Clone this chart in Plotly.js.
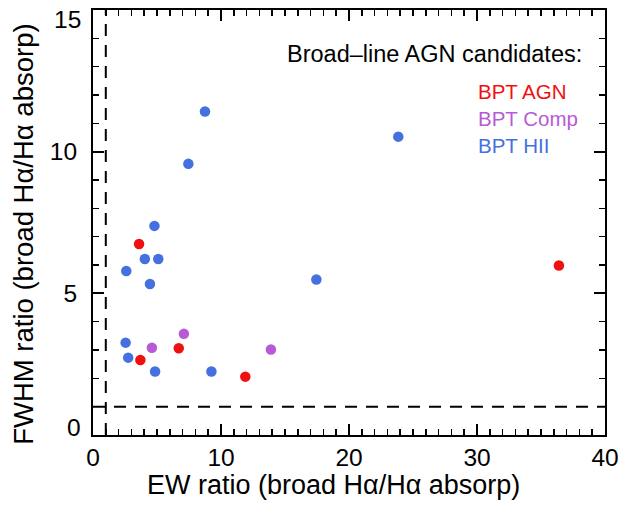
<!DOCTYPE html>
<html>
<head>
<meta charset="utf-8">
<script src="https://cdn.plot.ly/plotly-3.0.1.min.js"></script>
<style>html,body{margin:0;padding:0;background:#fff;}#chart{width:624px;height:507px;}</style>
</head>
<body>
<div id="chart"></div>
<script>
// EW ratio (x) and FWHM ratio (y) per BPT class
const agnEW   = [3.6, 6.7, 3.7, 11.9, 36.4];
const agnFWHM = [6.74, 3.06, 2.65, 2.06, 5.98];
const compEW   = [7.1, 4.6, 13.9];
const compFWHM = [3.57, 3.08, 3.02];
const hiiEW   = [8.75, 7.45, 4.8, 4.05, 5.1, 2.6, 4.45, 2.55, 2.75, 4.85, 9.25, 23.85, 17.45];
const hiiFWHM = [11.42, 9.57, 7.38, 6.21, 6.21, 5.79, 5.33, 3.26, 2.73, 2.24, 2.24, 10.53, 5.49];
// reference limits
const ewLimit = 1;
const fwhmLimit = 1;
const xRange = [0, 40];
const yRange = [0, 15];
const xTicks = [0, 10, 20, 30, 40];
const yTicks = [0, 5, 10, 15];
const classNames = ['BPT AGN', 'BPT Comp', 'BPT HII'];
const classColors = ['#f01010', '#b85ad6', '#4470e0'];

const FONT = 'Liberation Sans, Arial, Helvetica, sans-serif';
const mk = (c) => ({color: c, size: 10.5, line: {width: 0}});

const traces = [
  {x: [ewLimit, ewLimit], y: yRange, mode: 'lines', line: {color: '#000', width: 2, dash: '12px,9px'}, hoverinfo: 'skip', showlegend: false},
  {x: xRange, y: [fwhmLimit, fwhmLimit], mode: 'lines', line: {color: '#000', width: 2, dash: '12px,9px'}, hoverinfo: 'skip', showlegend: false},
  {x: agnEW, y: agnFWHM, mode: 'markers', marker: mk(classColors[0]), name: classNames[0], showlegend: false},
  {x: compEW, y: compFWHM, mode: 'markers', marker: mk(classColors[1]), name: classNames[1], showlegend: false},
  {x: hiiEW, y: hiiFWHM, mode: 'markers', marker: mk(classColors[2]), name: classNames[2], showlegend: false}
];

const axisCommon = {
  showgrid: false, zeroline: false, showline: true, linecolor: '#000', linewidth: 2,
  mirror: 'ticks', ticks: 'inside', ticklen: 11, tickwidth: 2, tickcolor: '#000',
  tickfont: {family: FONT, size: 24.5, color: '#000'},
  minor: {dtick: 1, ticks: 'inside', ticklen: 6, tickwidth: 1.5, tickcolor: '#000', showgrid: false}
};

// y tick labels at the range ends are drawn nudged inward, as in the reference
const yEndLabels = [yTicks[0], yTicks[yTicks.length - 1]];

const layout = {
  width: 624, height: 507,
  margin: {l: 93, r: 19, t: 10, b: 72},
  paper_bgcolor: '#fff', plot_bgcolor: '#fff',
  showlegend: false,
  font: {family: FONT, color: '#000'},
  xaxis: Object.assign({}, axisCommon, {
    range: xRange, tickmode: 'array', tickvals: xTicks, ticktext: xTicks.map(String),
    ticklabelstandoff: 0,
    title: {text: ''}
  }),
  yaxis: Object.assign({}, axisCommon, {
    range: yRange, tickmode: 'array', tickvals: yTicks,
    ticktext: yTicks.map(v => yEndLabels.includes(v) ? '' : String(v)),
    ticklabelstandoff: 9,
    title: {text: ''}
  }),
  annotations: [
    {text: String(yEndLabels[1]), xref: 'paper', yref: 'paper', x: -0.02, y: 0.977, xanchor: 'right', yanchor: 'middle', showarrow: false, font: {family: FONT, size: 24.5, color: '#000'}},
    {text: String(yEndLabels[0]), xref: 'paper', yref: 'paper', x: -0.02, y: 0.017, xanchor: 'right', yanchor: 'middle', showarrow: false, font: {family: FONT, size: 24.5, color: '#000'}},
    {text: 'FWHM ratio (broad Hα/Hα absorp)', xref: 'paper', yref: 'paper', x: -0.135, y: 0.473, xanchor: 'center', yanchor: 'middle', textangle: -90, showarrow: false, font: {family: FONT, size: 27.5, color: '#000'}},
    {text: 'EW ratio (broad Hα/Hα absorp)', xref: 'paper', yref: 'paper', x: 0.47, y: -0.117, xanchor: 'center', yanchor: 'middle', showarrow: false, font: {family: FONT, size: 27, color: '#000'}},
    {text: 'Broad–line AGN candidates:', xref: 'paper', yref: 'paper', x: 0.959, y: 0.896, xanchor: 'right', yanchor: 'middle', showarrow: false, font: {family: FONT, size: 23.5, color: '#000'}},
    {text: classNames[0], xref: 'paper', yref: 'paper', x: 0.748, y: 0.809, xanchor: 'left', yanchor: 'middle', showarrow: false, font: {family: FONT, size: 20.5, color: classColors[0]}},
    {text: classNames[1], xref: 'paper', yref: 'paper', x: 0.748, y: 0.744, xanchor: 'left', yanchor: 'middle', showarrow: false, font: {family: FONT, size: 20.5, color: classColors[1]}},
    {text: classNames[2], xref: 'paper', yref: 'paper', x: 0.748, y: 0.682, xanchor: 'left', yanchor: 'middle', showarrow: false, font: {family: FONT, size: 20.5, color: classColors[2]}}
  ]
};

Plotly.newPlot('chart', traces, layout, {displayModeBar: false, staticPlot: true});
</script>
</body>
</html>
